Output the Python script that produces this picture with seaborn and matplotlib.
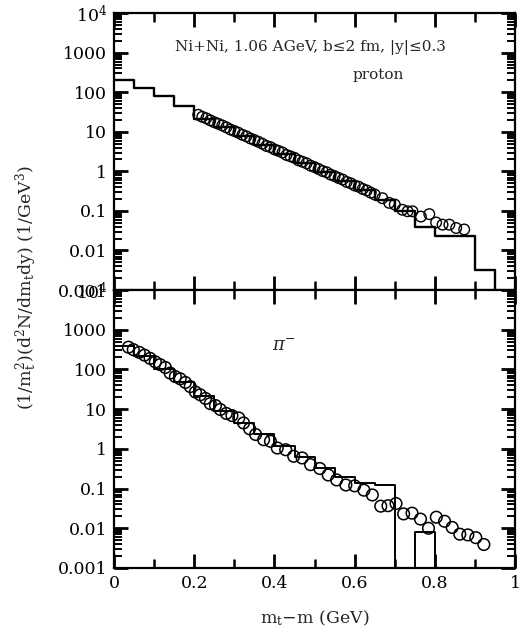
import matplotlib
matplotlib.use("Agg")
import matplotlib.pyplot as plt
import numpy as np
import pandas as pd
import seaborn as sns

# ---------------- data ----------------
# proton: transport-model histogram (bins of 0.05 GeV)
p_edges = [0.00, 0.05, 0.10, 0.15, 0.20, 0.25, 0.30, 0.35, 0.40, 0.45, 0.50,
           0.55, 0.60, 0.65, 0.70, 0.75, 0.80, 0.85, 0.90, 0.95]
p_hist = [200, 128, 79, 44, 21, 13, 7.8, 4.6, 2.7, 1.6, 0.95,
          0.56, 0.33, 0.19, 0.10, 0.040, 0.023, 0.023, 0.0032]

# proton: data points
p_x = [0.21, 0.22, 0.23, 0.24, 0.25, 0.26, 0.27, 0.28, 0.29, 0.30,
       0.31, 0.32, 0.33, 0.34, 0.35, 0.36, 0.37, 0.38, 0.39, 0.40,
       0.41, 0.42, 0.43, 0.44, 0.45, 0.46, 0.47, 0.48, 0.49, 0.50,
       0.51, 0.52, 0.53, 0.54, 0.55, 0.56, 0.57, 0.58, 0.59, 0.60,
       0.61, 0.62, 0.63, 0.64, 0.65, 0.669, 0.686, 0.70, 0.719, 0.732,
       0.744, 0.765, 0.786, 0.803, 0.819, 0.836, 0.853, 0.873]
p_y = [27, 24, 22, 19.5, 17.5, 16, 14.5, 13, 11.5, 10.5,
       9.5, 8.4, 7.7, 6.8, 6.2, 5.6, 5.0, 4.4, 4.1, 3.6,
       3.3, 3.0, 2.6, 2.4, 2.2, 1.9, 1.75, 1.6, 1.4, 1.28,
       1.15, 1.02, 0.95, 0.83, 0.76, 0.68, 0.62, 0.54, 0.50, 0.44,
       0.41, 0.36, 0.33, 0.29, 0.26, 0.21, 0.16, 0.145, 0.107, 0.098,
       0.098, 0.072, 0.083, 0.051, 0.045, 0.045, 0.037, 0.034]

# pi-: histogram
pi_edges = [0.00, 0.05, 0.10, 0.15, 0.20, 0.25, 0.30, 0.35, 0.40, 0.45,
            0.50, 0.55, 0.60, 0.65, 0.70, 0.75, 0.80]
pi_hist = [400, 220, 100, 47, 21, 9, 4.4, 2.3, 1.2, 0.62,
           0.33, 0.19, 0.14, 0.12, 0.0, 0.008]

# pi-: data points
pi_x = [0.036, 0.048, 0.063, 0.076, 0.090, 0.103, 0.115, 0.128, 0.140, 0.153,
        0.165, 0.178, 0.190, 0.203, 0.215, 0.228, 0.240, 0.253, 0.265, 0.280,
        0.294, 0.311, 0.323, 0.338, 0.353, 0.373, 0.390, 0.407, 0.428, 0.448,
        0.469, 0.490, 0.513, 0.534, 0.555, 0.578, 0.600, 0.623, 0.644, 0.665,
        0.683, 0.703, 0.722, 0.743, 0.764, 0.784, 0.8035, 0.824, 0.843, 0.862,
        0.882, 0.902, 0.922]
pi_y = [363, 316, 269, 229, 190, 155, 132, 112, 81, 66,
        58, 47, 37, 27, 23, 18.6, 13.8, 12.3, 9.8, 7.8,
        6.9, 6.0, 4.5, 3.2, 2.3, 1.7, 1.55, 1.05, 0.95, 0.65,
        0.59, 0.40, 0.32, 0.22, 0.165, 0.123, 0.117, 0.091, 0.069, 0.036,
        0.037, 0.042, 0.023, 0.024, 0.017, 0.010, 0.019, 0.015, 0.0105, 0.0071,
        0.0068, 0.0058, 0.0039]

ytick_vals = [1e-3, 1e-2, 1e-1, 1, 10, 100, 1000, 1e4]
ytick_labels = ["0.001", "0.01", "0.1", "1", "10", "100", "1000", "10$^4$"]
xtick_vals = [0, 0.2, 0.4, 0.6, 0.8, 1.0]
xtick_labels = ["0", "0.2", "0.4", "0.6", "0.8", "1"]
xtick_minor = [0.1, 0.3, 0.5, 0.7, 0.9]

# ---------------- style ----------------
sns.set_theme(style="ticks")
plt.rcParams.update({
    "font.family": ["DejaVu Serif"],
    "mathtext.fontset": "dejavuserif",
    "axes.axisbelow": False,
    "xtick.labelsize": 12.5, "ytick.labelsize": 12.5,
})

FLOOR = 1e-6

fig = plt.figure(figsize=(5.32, 6.32), dpi=100)
ax_top = fig.add_axes([0.2143, 0.5411, 0.754, 0.4380])
ax_bot = fig.add_axes([0.2143, 0.1013, 0.754, 0.4398])

# minor log ticks (2..9 in each decade)
ytick_minor = [m * d for d in ytick_vals[:-1] for m in range(2, 10)]


def style_axis(ax, show_xlabels):
    ax.set_xlim(0, 1)
    ax.set_ylim(1e-3, 1e4)
    ax.set_yticks(ytick_vals, ytick_labels)
    ax.set_yticks(ytick_minor, minor=True)
    ax.set_yticklabels([], minor=True)
    ax.set_xticks(xtick_vals, xtick_labels if show_xlabels else [""] * len(xtick_vals))
    ax.set_xticks(xtick_minor, minor=True)
    ax.set_xticklabels([], minor=True)
    ax.tick_params(which="both", direction="in", top=True, right=True,
                   bottom=True, left=True, color="#000000", labelcolor="black")
    ax.tick_params(which="major", length=10, width=2.0, pad=5)
    ax.tick_params(which="minor", length=5.5, width=1.4)
    ax.tick_params(axis="x", which="minor", length=6.5, width=1.8)
    for s in ax.spines.values():
        s.set_linewidth(1.6)
        s.set_color("black")
    ax.set_ylabel("")


# top panel: proton
dfp = pd.DataFrame({"x": list(p_edges) + [p_edges[-1]],
                    "y": [max(v, FLOOR) for v in p_hist] + [FLOOR, FLOOR]})
ax_top.set_yscale("log")
sns.lineplot(data=dfp, x="x", y="y", drawstyle="steps-post", color="black",
             linewidth=1.7, estimator=None, sort=False, ax=ax_top)
sns.scatterplot(x=p_x, y=p_y, marker="o", s=58, facecolors="none",
                edgecolor="black", linewidth=1.0, ax=ax_top, zorder=3)
style_axis(ax_top, False)
ax_top.set_xlabel("")
ax_top.text(0.489, 0.877, "Ni+Ni, 1.06 AGeV, b≤2 fm, |y|≤0.3",
            transform=ax_top.transAxes, ha="center", va="center", fontsize=11)
ax_top.text(0.658, 0.776, "proton", transform=ax_top.transAxes,
            ha="center", va="center", fontsize=11)

# bottom panel: pi-
dfpi = pd.DataFrame({"x": list(pi_edges) + [pi_edges[-1]],
                     "y": [max(v, FLOOR) for v in pi_hist] + [FLOOR, FLOOR]})
ax_bot.set_yscale("log")
sns.lineplot(data=dfpi, x="x", y="y", drawstyle="steps-post", color="black",
             linewidth=1.4, estimator=None, sort=False, ax=ax_bot)
sns.scatterplot(x=pi_x, y=pi_y, marker="o", s=70, facecolors="none",
                edgecolor="black", linewidth=1.1, ax=ax_bot, zorder=3)
style_axis(ax_bot, True)
ax_bot.text(0.424, 0.799, r"$\pi^{-}$", transform=ax_bot.transAxes,
            ha="center", va="center", fontsize=13)
ax_bot.set_xlabel(r"m$_\mathrm{t}$$-$m (GeV)", fontsize=12.5, labelpad=12)

fig.text(0.05, 0.545, r"(1/m$_\mathrm{t}^2$)(d$^2$N/dm$_\mathrm{t}$dy) (1/GeV$^3$)",
         rotation=90, ha="center", va="center", fontsize=12.5)

fig.savefig("out.png", dpi=100)
